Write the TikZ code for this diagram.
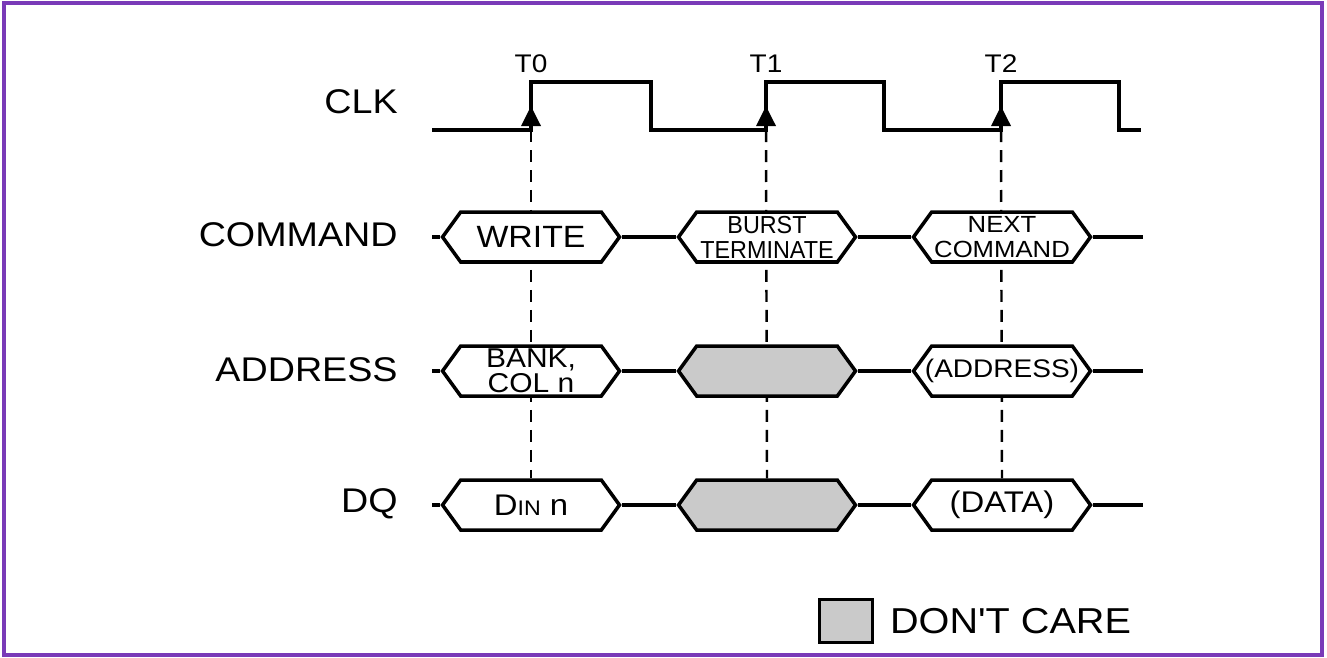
\documentclass[tikz,border=0pt]{standalone}
\usepackage{fontspec}
\setmainfont{Liberation Sans}[Ligatures=TeXOff,FakeStretch=1.1]
\newfontfamily\narrowfont{Liberation Sans}[Ligatures=TeXOff,FakeStretch=0.95]
\usetikzlibrary{arrows.meta,positioning,shapes.symbols,backgrounds}
\definecolor{framepurple}{RGB}{122,58,184}
\definecolor{dcgray}{RGB}{202,202,202}

\begin{document}
\begin{tikzpicture}[x=0.02cm,y=-0.02cm]
  \tikzstyle{sig}=[line width=2pt,line join=miter]
  \tikzstyle{bus}=[draw,line width=2pt,fill=white,signal,signal to=east and west,
    signal pointer angle=108,minimum width=3.54cm,minimum height=1cm,inner sep=0pt,align=center]
  \tikzstyle{dc}=[bus,fill=dcgray]
  \tikzstyle{siglabel}=[anchor=east,inner sep=0pt,font=\fontsize{19.5}{22}\selectfont]
  \tikzstyle{ticklabel}=[inner sep=0pt,font=\fontsize{14.5}{16}\selectfont]
  \tikzstyle{edgetip}=[-{Triangle[length=0.4cm,width=0.38cm]},line width=2pt]
  \tikzstyle{guide}=[dash pattern=on 0.24cm off 0.16cm,line width=1.4pt]

  \useasboundingbox (0,0) rectangle (1327,657);
  \draw[framepurple,line width=2.2pt] (4,3) rectangle (1322,655);

  % -- signal names --
  \node[siglabel] (clk)  at (398,102) {CLK};
  \node[siglabel] (cmd)  at (398,235) {COMMAND};
  \node[siglabel] (addr) at (398,370) {ADDRESS};
  \node[siglabel] (dq)   at (398,504) {DQ};

  % -- clock --
  \coordinate (clkL) at (432,130);
  \coordinate (t0) at (531,130);
  \coordinate (t1) at (766,130);
  \coordinate (t2) at (1001,130);
  \draw[sig] (clkL) -- (t0) |- (651,82) |- (t1) |- (884,82) |- (t2) |- (1119,82) |- (1141,130);
  \draw[edgetip] (t0) -- ++(0,-24);
  \draw[edgetip] (t1) -- ++(0,-24);
  \draw[edgetip] (t2) -- ++(0,-24);
  \node[ticklabel] (lt0) at (531,64) {T0};
  \node[ticklabel] (lt1) at (766,64) {T1};
  \node[ticklabel] (lt2) at (1001,64) {T2};

  % -- command bus --
  \coordinate (cmdL) at (432,237);
  \coordinate (cmdR) at (1143,237);
  \node[bus,font=\fontsize{17.5}{20}\selectfont] (cmd0) at (531,237) {WRITE};
  \node[bus,font=\narrowfont\fontsize{14}{14.2}\selectfont] (cmd1) at (767,237) {BURST\\TERMINATE};
  \node[bus,font=\fontsize{13.3}{14.2}\selectfont] (cmd2) at (1002,237) {NEXT\\COMMAND};
  \draw[sig] (cmdL) -- (cmd0.west) (cmd0.east) -- (cmd1.west) (cmd1.east) -- (cmd2.west) (cmd2.east) -- (cmdR);

  % -- address bus --
  \coordinate (addrL) at (432,371);
  \coordinate (addrR) at (1143,371);
  \node[bus,font=\fontsize{15.5}{14.2}\selectfont] (addr0) at (531,371) {BANK,\\COL n};
  \node[dc] (addr1) at (767,371) {};
  \node[bus,font=\fontsize{14.5}{16}\selectfont] (addr2) at (1002,371) {\makebox[0pt]{(ADDRESS)}};
  \draw[sig] (addrL) -- (addr0.west) (addr0.east) -- (addr1.west) (addr1.east) -- (addr2.west) (addr2.east) -- (addrR);

  % -- data bus --
  \coordinate (dqL) at (432,505);
  \coordinate (dqR) at (1143,505);
  \node[bus,font=\fontsize{17}{19}\selectfont] (dq0) at (531,505) {D{\fontsize{12}{12}\selectfont IN} n};
  \node[dc] (dq1) at (767,505) {};
  \node[bus,font=\fontsize{17}{19}\selectfont] (dq2) at (1002,505) {(DATA)};
  \draw[sig,line width=2.6pt] (dqL) -- (dq0.west) (dq0.east) -- (dq1.west) (dq1.east) -- (dq2.west) (dq2.east) -- (dqR);

  % -- clock edge guides, behind the buses --
  \begin{scope}[on background layer]
    \draw[guide] (t0) -- (dq0.north);
    \draw[guide] (t1) -- (dq1.north);
    \draw[guide] (t2) -- (dq2.north);
  \end{scope}

  % -- legend --
  \node[draw,line width=2pt,fill=dcgray,minimum width=1.06cm,minimum height=0.86cm,inner sep=0pt] (dcbox) at (846,621) {};
  \node[right=0.31cm of dcbox,inner sep=0pt,font=\fontsize{20.5}{22}\selectfont] (dctext) {DON'T CARE};
\end{tikzpicture}
\end{document}
